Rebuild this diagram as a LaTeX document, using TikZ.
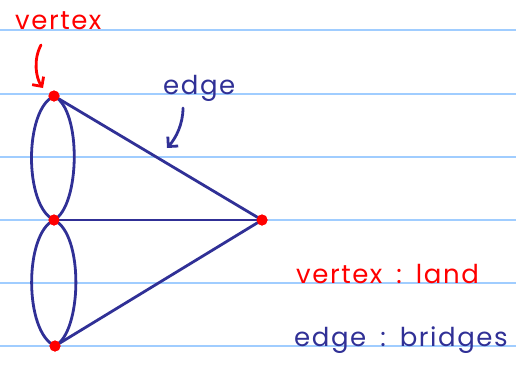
\documentclass[tikz,border=0pt]{standalone}
\usepackage{fontspec}
\setmainfont{Poppins}[LetterSpace=6]
\usetikzlibrary{arrows.meta}
\definecolor{inkblue}{RGB}{48,48,150}
\definecolor{inkred}{RGB}{255,0,0}
\definecolor{ruled}{RGB}{160,205,255}
\newcommand{\sep}{\hspace{14pt}:\hspace{14pt}}
\begin{document}
\begin{tikzpicture}[
  x=1pt,
  y=-1pt,
  line cap=round,
  line join=round,
  vertex/.style={
    circle,
    fill=inkred,
    inner sep=0pt,
    minimum size=11pt
  },
  edgeline/.style={
    draw=inkblue,
    line width=2.8pt
  },
  note/.style={
    anchor=base west,
    inner sep=0pt,
    font=\fontsize{26}{26}\selectfont
  }
]
  \useasboundingbox (0,0) rectangle (516,369);

  % Linien des Blattes
  \foreach \y in {30,94,157,220,283,346}
    \draw[ruled, line width=2pt] (0,\y) -- (516,\y);

  % Knoten
  \node[vertex] (top) at (54,96) {};
  \node[vertex] (mid) at (54,220) {};
  \node[vertex] (bot) at (55,346) {};
  \node[vertex] (right) at (262,220) {};

  % Kanten
  \draw[edgeline]
    (top.center) .. controls (24,110) and (24,206) .. (mid.center);
  \draw[edgeline]
    (top.center) .. controls (82,110) and (80,206) .. (mid.center);
  \draw[edgeline]
    (mid.center) .. controls (24,234) and (24,332) .. (bot.center);
  \draw[edgeline]
    (mid.center) .. controls (84,234) and (82,332) .. (bot.center);
  \draw[edgeline] (top.center) -- (right.center);
  \draw[edgeline] (mid.center) -- (right.center);
  \draw[edgeline] (bot.center) -- (right.center);

  % Knoten nochmals obenauf
  \foreach \n in {top,mid,bot,right}
    \fill[inkred] (\n) circle (5.5pt);

  % Beschriftungen
  \node[note, text=inkred] (vlabel) at (15,30) {vertex};
  \node[note, text=inkblue] (elabel) at (163,94) {edge};
  \node[note, text=inkred] (vland) at (296,283) {vertex\sep land};
  \node[note, text=inkblue] (ebridge) at (294,346) {edge\sep bridges};

  % Pfeile
  \coordinate (vtail) at (41,45);
  \coordinate (vhead) at (43,88);
  \draw[inkred, line width=2.8pt, -{Straight Barb[length=7pt]}]
    (vtail) .. controls (33,60) and (36,78) .. (vhead);
  \coordinate (etail) at (183,108);
  \coordinate (ehead) at (167,148);
  \draw[inkblue, line width=2.8pt, -{Straight Barb[length=7pt]}]
    (etail) .. controls (183,124) and (176,138) .. (ehead);
\end{tikzpicture}
\end{document}
